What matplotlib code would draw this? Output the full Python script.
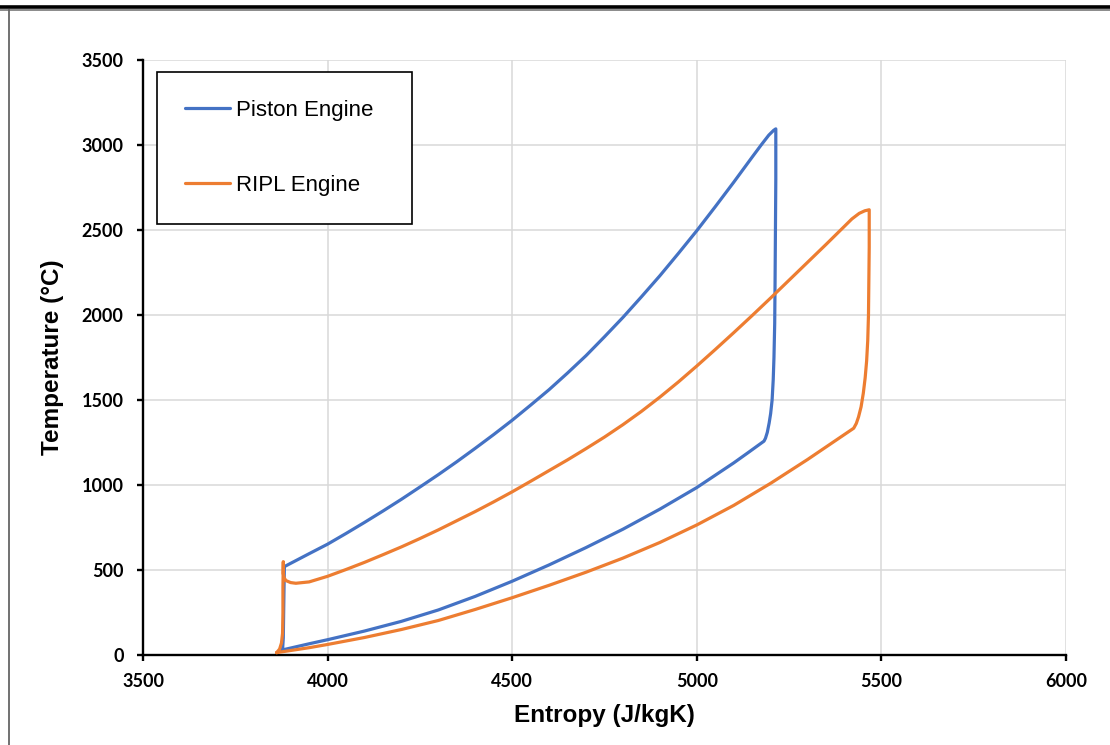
import matplotlib
matplotlib.use("Agg")
import matplotlib.pyplot as plt
from matplotlib.lines import Line2D

# ---- data (traced around each closed cycle) ----
piston_s = [3878, 3880, 3881, 3882, 3883,
            3950, 4000, 4050, 4100, 4150, 4200, 4250, 4300, 4350, 4400, 4450,
            4500, 4550, 4600, 4650, 4700, 4750, 4800, 4850, 4900, 4950, 5000,
            5050, 5100, 5150, 5175, 5195, 5208, 5214,
            5214, 5213, 5212, 5211, 5209, 5207, 5204, 5200, 5196, 5191, 5186, 5182,
            5140, 5100, 5000, 4900, 4800, 4700, 4600, 4500, 4400, 4300, 4200, 4100,
            4000, 3950, 3878]
piston_T = [30, 100, 250, 400, 520,
            596, 652, 715, 780, 847, 916, 988, 1061, 1137, 1216, 1297,
            1381, 1470, 1561, 1659, 1761, 1872, 1986, 2107, 2231, 2362, 2496,
            2637, 2781, 2929, 3002, 3058, 3086, 3095,
            2800, 2500, 2200, 1950, 1750, 1620, 1500, 1420, 1365, 1310, 1275, 1258,
            1192, 1130, 985, 858, 740, 632, 530, 434, 345, 265, 198, 141,
            90, 66, 30]

ripl_s = [3862, 3870, 3875, 3878, 3879, 3879, 3880,
          3880, 3882, 3887, 3900, 3914, 3950, 4000,
          4050, 4100, 4150, 4200, 4250, 4300, 4350, 4400, 4450, 4500, 4550,
          4600, 4650, 4700, 4750, 4800, 4850, 4900, 4950, 5000, 5050, 5100,
          5150, 5200, 5250, 5300, 5350, 5400, 5420, 5440, 5455, 5467,
          5467, 5467, 5466, 5465, 5463, 5460, 5456, 5451, 5445, 5438, 5432, 5425,
          5300, 5200, 5100, 5000, 4900, 4800, 4700, 4600, 4500, 4400, 4300,
          4200, 4100, 4000, 3950, 3862]
ripl_T = [14, 35, 70, 127, 250, 400, 549,
          480, 455, 438, 426, 422, 430, 463,
          503, 545, 590, 636, 685, 736, 790, 844, 901, 960, 1022,
          1085, 1148, 1214, 1282, 1355, 1433, 1517, 1606, 1700, 1797, 1896,
          1997, 2100, 2205, 2310, 2415, 2522, 2565, 2598, 2613, 2619,
          2600, 2400, 2200, 2000, 1850, 1730, 1630, 1540, 1460, 1400, 1362, 1334,
          1150, 1010, 880, 765, 662, 570, 487, 410, 337, 268, 203,
          150, 103, 62, 43, 14]

series_labels = ["Piston Engine", "RIPL Engine"]
x_ticks = [3500, 4000, 4500, 5000, 5500, 6000]
y_ticks = [0, 500, 1000, 1500, 2000, 2500, 3000, 3500]

BLUE = "#4472C4"
ORANGE = "#ED7D31"

fig = plt.figure(figsize=(11.1, 7.45), dpi=100)
ax = fig.add_axes([143 / 1110, 1 - 655 / 745, 923 / 1110, 595 / 745])

ax.plot(piston_s, piston_T, color=BLUE, lw=2.3, label=series_labels[0],
        solid_joinstyle="round", solid_capstyle="round", zorder=3)
ax.plot(ripl_s, ripl_T, color=ORANGE, lw=2.3, label=series_labels[1],
        solid_joinstyle="round", solid_capstyle="round", zorder=3)

ax.set_xlim(3500, 6000)
ax.set_ylim(0, 3500)
ax.set_xticks(x_ticks)
ax.set_yticks(y_ticks)

ax.grid(True, color="#d9d9d9", lw=1.1, zorder=0)
ax.set_axisbelow(True)
for sp in ["top", "right"]:
    ax.spines[sp].set_visible(False)
for sp in ["left", "bottom"]:
    ax.spines[sp].set_color("black")
    ax.spines[sp].set_linewidth(1.7)

ax.tick_params(axis="both", direction="out", length=4.5, width=1.7, color="black")
ax.tick_params(axis="y", pad=9.5)
ax.tick_params(axis="x", pad=8.5)
for lab in ax.get_xticklabels() + ax.get_yticklabels():
    lab.set_fontfamily("Lato")
    lab.set_fontweight("bold")
    lab.set_fontsize(13)

ax.set_xlabel("Entropy (J/kgK)", family="Liberation Sans", weight="bold",
              fontsize=17.5)
ax.set_ylabel("Temperature (°C)", family="Liberation Sans", weight="bold",
              fontsize=17.5)
ax.xaxis.set_label_coords(0.5, -0.082)
ax.yaxis.set_label_coords(-0.086, 0.5)

leg = ax.legend(loc="upper left",
                bbox_to_anchor=(0.0152, 0.729, 0.2762, 0.251),
                mode="expand", borderaxespad=0,
                prop=dict(family="Liberation Sans", size=16),
                handlelength=2.03, handletextpad=0.27, labelspacing=2.43,
                borderpad=1.26, fancybox=False, framealpha=1)
leg.get_frame().set_edgecolor("black")
leg.get_frame().set_linewidth(1.2)

# outer frame pieces visible in the reference
fig.add_artist(Line2D([0, 1], [1 - 6.5 / 745, 1 - 6.5 / 745], color="black",
                      lw=2.6, transform=fig.transFigure))
fig.add_artist(Line2D([0, 1], [1 - 9.5 / 745, 1 - 9.5 / 745], color="#777777",
                      lw=1.2, transform=fig.transFigure))
fig.add_artist(Line2D([9 / 1110, 9 / 1110], [0, 1 - 10 / 745], color="#666666",
                      lw=1.3, transform=fig.transFigure))

fig.savefig("out.png", dpi=100)
